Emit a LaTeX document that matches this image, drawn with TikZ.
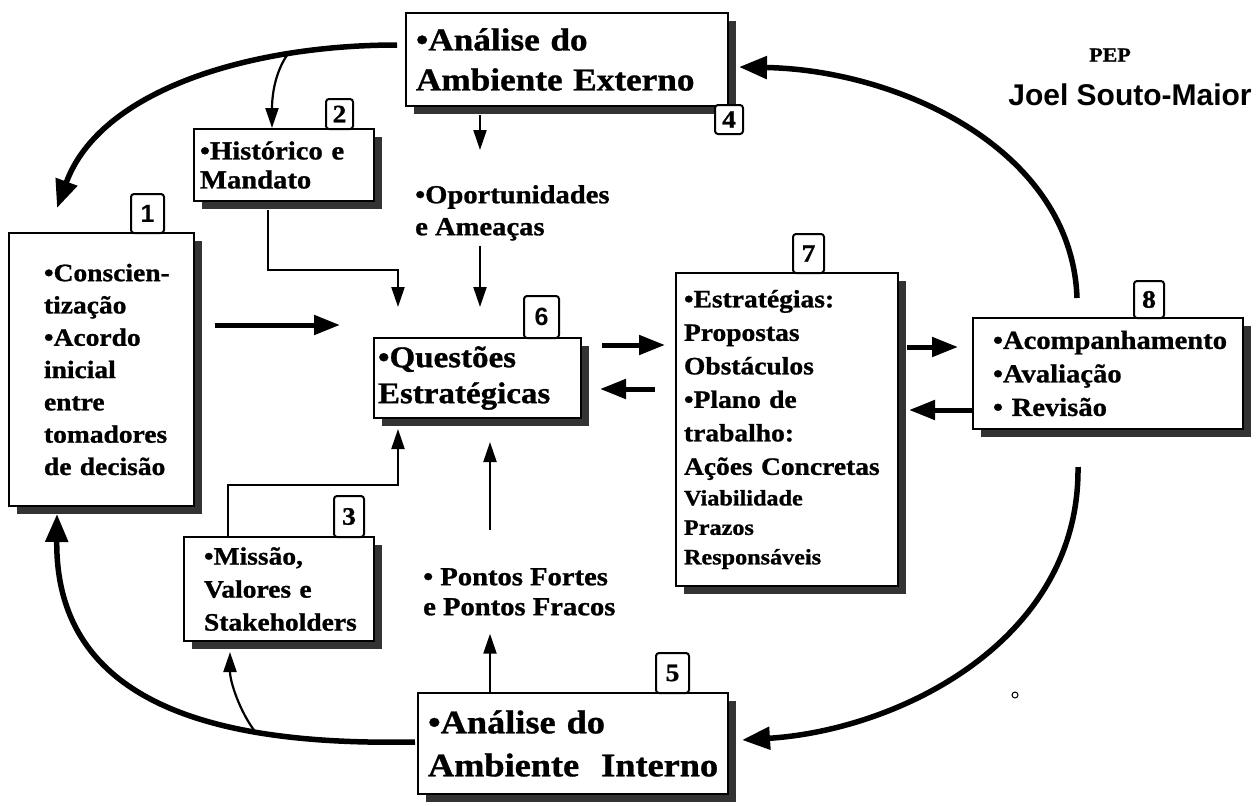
\documentclass[tikz,border=0pt]{standalone}
\usepackage{fontspec}
\setmainfont{Liberation Serif}[FakeStretch=1.1, BoldFeatures={FakeBold=1}]
\newfontfamily\arialfont{Liberation Sans}
\usetikzlibrary{arrows.meta,shadows,calc}
\newcommand{\fs}[2]{\fontsize{#1}{#2}\selectfont\bfseries}
\tikzset{
  box/.style={draw, line width=2pt, fill=white, anchor=north west, align=left,
    inner ysep=0pt, drop shadow={shadow xshift=8pt, shadow yshift=-8pt, fill=black!80, opacity=1}},
  lbl/.style={draw, line width=2pt, fill=white, rounded corners=3pt, anchor=north west,
    inner sep=0pt, font=\fs{25}{25}},
  txt/.style={anchor=north west, align=left, inner sep=0pt},
  thk/.style={line width=5.5pt, -{Triangle[length=28pt,width=22pt]}},
  thk2/.style={line width=5pt, -{Triangle[length=26pt,width=19pt]}},
  thn/.style={line width=2.2pt, -{Triangle[length=20pt,width=13pt]}}
}
\begin{document}
\hyphenpenalty=10000 \exhyphenpenalty=10000
\begin{tikzpicture}[x=1pt,y=-1pt]
\useasboundingbox[fill=white] (0,0) rectangle (1259,806);

% boxes
\node[box, minimum width=322pt, minimum height=93pt, text width=302pt, inner xsep=10pt, font=\fs{32}{40}] (b4) at (405,12) {•Análise do\\Ambiente~Externo};
\node[box, minimum width=180pt, minimum height=72pt, text width=168pt, inner xsep=6pt, font=\fs{26}{29}] (b2) at (193,128) {•Histórico~e\\Mandato};
\node[box, minimum width=185pt, minimum height=273pt, text width=177pt, inner xsep=4pt, font=\fs{25}{32.3}] (b1) at (8,232) {\leftskip=31pt\relax •Conscien-\\tização\\•Acordo\\inicial\\entre\\tomadores\\de~decisão\par};
\node[box, minimum width=207pt, minimum height=80pt, text width=199pt, inner xsep=4pt, font=\fs{30}{36}] (b6) at (373,337) {•Questões\\Estratégicas};
\node[box, minimum width=222pt, minimum height=313pt, text width=206pt, inner xsep=8pt, font=\fs{25}{33.5}] (b7) at (675,272) {•Estratégias:\\Propostas\\Obstáculos\\•Plano~de\\trabalho:\\Ações~Concretas\\[-3pt]{\fs{22}{30}Viabilidade}\\[-4pt]{\fs{22}{30}Prazos}\\[-4pt]{\fs{22}{30}Responsáveis}};
\node[box, minimum width=270pt, minimum height=111pt, text width=230pt, inner xsep=20pt, font=\fs{26}{33.5}] (b8) at (972,317) {•Acompanhamento\\•Avaliação\\•~Revisão};
\node[box, minimum width=190pt, minimum height=104pt, text width=170pt, inner xsep=10pt, font=\fs{25}{33}] (b3) at (183,536) {\leftskip=10pt\relax •Missão,\\Valores~e\\Stakeholders\par};
\node[box, minimum width=310pt, minimum height=101pt, text width=290pt, inner xsep=10pt, font=\fs{33}{43}] (b5) at (417,692) {•Análise do\\Ambiente~~Interno};

% number labels
\node[lbl, minimum width=33pt, minimum height=39pt, font=\arialfont\bfseries\fontsize{25}{25}\selectfont] (n1) at (130,193) {1};
\node[lbl, minimum width=27pt, minimum height=30pt] (n2) at (325,98) {2};
\node[lbl, minimum width=30pt, minimum height=41pt] (n3) at (333,495) {3};
\node[lbl, minimum width=28pt, minimum height=29pt] (n4) at (714,104) {4};
\node[lbl, minimum width=33pt, minimum height=40pt] (n5) at (655,652) {5};
\node[lbl, minimum width=35pt, minimum height=42pt, font=\arialfont\bfseries\fontsize{25}{25}\selectfont] (n6) at (523,295) {6};
\node[lbl, minimum width=31pt, minimum height=39pt] (n7) at (792,233) {7};
\node[lbl, minimum width=30pt, minimum height=37pt] (n8) at (1133,280) {8};

% free texts
\node[txt, font=\fs{26}{32}] (opp) at (415,185) {•Oportunidades\\e Ameaças};
\node[txt, font=\fs{26}{30}] (pts) at (423,568) {• Pontos Fortes\\e Pontos Fracos};
\node[font=\fs{20}{20}] (pep) at (1110,55) {PEP};
\node[font=\arialfont\bfseries\fontsize{30}{30}\selectfont] (joel) at (1130,95) {Joel Souto-Maior};

% connectors
\coordinate (c4w) at ($(b4.north west)+(-8,33)$);
\draw[thk] (c4w) .. controls (250,45) and (100,90) .. ($(b1.north west)+(49,-24)$) coordinate[pos=0.25] (j1);
\draw[thn] (j1) .. controls +(-14,20) and +(0,-30) .. ($(b2.north west)+(79,0)$);

\draw[thn] ($(b4.south west)+(75,8)$) -- ($(opp.north west)+(65,-35)$);
\draw[thn] ($(opp.south west)+(65,5)$) -- ($(b6.north west)+(107,-30)$);
\draw[thn] ($(b2.south west)+(75,8)$) |- ($(b6.north west)+(25,-67)$) -- ($(b6.north west)+(25,-30)$);

\draw[thk2] ($(b1.north east)+(20,93)$) -- ($(b6.north west)+(-33,-12)$);
\draw[thk2] ($(b6.north east)+(20,8)$) -- ($(b7.north west)+(-10,73)$);
\draw[thk2] ($(b7.north west)+(-20,117)$) -- ($(b6.north east)+(18,52)$);
\draw[thk2] ($(b7.north east)+(8,75)$) -- ($(b8.north west)+(-14,30)$);
\draw[thk2] ($(b8.north west)+(0,93)$) -- ($(b7.north east)+(10,138)$);

\draw[thk] ($(b8.north west)+(105,-19)$) .. controls (1072,150) and (900,70) .. ($(b4.north east)+(10,55)$);
\draw[thk] ($(b8.south west)+(106,37)$) .. controls (1080,640) and (900,730) .. ($(b5.north east)+(13,48)$);
\draw[thk] ($(b5.north west)+(-2,50)$) .. controls (250,745) and (55,720) .. ($(b1.south west)+(49,7)$) coordinate[pos=0.32] (j2);
\draw[thn] (j2) .. controls +(-15,-20) and +(0,30) .. ($(b3.south west)+(47,10)$);

\draw[thn] ($(b3.north west)+(45,0)$) |- ($(b6.south west)+(25,66)$) -- ($(b6.south west)+(25,10)$);
\draw[thn] ($(pts.north west)+(67,-38)$) -- ($(b6.south west)+(117,23)$);
\draw[thn] ($(b5.north west)+(73,0)$) -- ($(pts.south west)+(67,18)$);

\draw[line width=1pt] (1015,695) circle (3pt);
\end{tikzpicture}
\end{document}
